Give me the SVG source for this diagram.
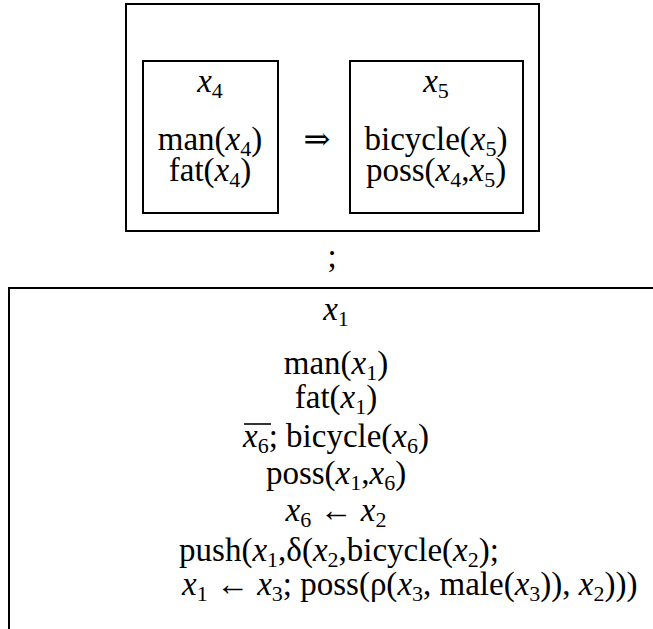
<svg xmlns="http://www.w3.org/2000/svg" width="653" height="629" viewBox="0 0 653 629">
<style>
.box{fill:none;stroke:#000;stroke-width:2}
text{font-family:'Liberation Serif','DejaVu Serif',serif;font-size:33px;fill:#000}
.c{text-anchor:middle}
.i{font-style:italic}
.s{font-size:22px}
.sym{font-family:'DejaVu Serif',serif;font-size:32px}
</style>
<rect width="653" height="629" fill="#fff"/>
<g id="outer">
<rect class="box" x="126" y="4" width="413" height="227"/>
</g>
<g id="box-x4">
<rect class="box" x="143" y="61" width="135" height="152"/>
<text class="c" x="210" y="92"><tspan class="i">x</tspan><tspan class="s" dy="6">4</tspan></text>
<text class="c" x="210" y="150">man(<tspan class="i">x</tspan><tspan class="s" dy="6">4</tspan><tspan dy="-6">)</tspan></text>
<text class="c" x="210" y="181">fat(<tspan class="i">x</tspan><tspan class="s" dy="6">4</tspan><tspan dy="-6">)</tspan></text>
</g>
<g id="implies">
<text class="c sym" x="317" y="150">⇒</text>
</g>
<g id="box-x5">
<rect class="box" x="350" y="61" width="173" height="152"/>
<text class="c" x="436" y="92"><tspan class="i">x</tspan><tspan class="s" dy="6">5</tspan></text>
<text class="c" x="436" y="150">bicycle(<tspan class="i">x</tspan><tspan class="s" dy="6">5</tspan><tspan dy="-6">)</tspan></text>
<text class="c" x="436" y="181">poss(<tspan class="i">x</tspan><tspan class="s" dy="6">4</tspan><tspan dy="-6">,</tspan><tspan class="i">x</tspan><tspan class="s" dy="6">5</tspan><tspan dy="-6">)</tspan></text>
</g>
<g id="seq">
<text class="c" x="332" y="267">;</text>
</g>
<g id="box-x1">
<path class="box" d="M9,629 V288 H653"/>
<text class="c" x="336" y="320"><tspan class="i">x</tspan><tspan class="s" dy="6">1</tspan></text>
<text class="c" x="336" y="374">man(<tspan class="i">x</tspan><tspan class="s" dy="6">1</tspan><tspan dy="-6">)</tspan></text>
<text class="c" x="336" y="408">fat(<tspan class="i">x</tspan><tspan class="s" dy="6">1</tspan><tspan dy="-6">)</tspan></text>
<text class="c" x="336" y="447"><tspan class="i">x</tspan><tspan class="s" dy="6">6</tspan><tspan dy="-6">; bicycle(</tspan><tspan class="i">x</tspan><tspan class="s" dy="6">6</tspan><tspan dy="-6">)</tspan></text>
<line x1="244" y1="424" x2="271" y2="424" stroke="#000" stroke-width="1.6"/>
<text class="c" x="336" y="484">poss(<tspan class="i">x</tspan><tspan class="s" dy="6">1</tspan><tspan dy="-6">,</tspan><tspan class="i">x</tspan><tspan class="s" dy="6">6</tspan><tspan dy="-6">)</tspan></text>
<text class="c" x="336" y="521"><tspan class="i">x</tspan><tspan class="s" dy="6">6</tspan><tspan dy="-6"> ← </tspan><tspan class="i">x</tspan><tspan class="s" dy="6">2</tspan></text>
<text class="c" x="339" y="561">push(<tspan class="i">x</tspan><tspan class="s" dy="6">1</tspan><tspan dy="-6">,δ(</tspan><tspan class="i">x</tspan><tspan class="s" dy="6">2</tspan><tspan dy="-6">,bicycle(</tspan><tspan class="i">x</tspan><tspan class="s" dy="6">2</tspan><tspan dy="-6">);</tspan></text>
<text x="182" y="595"><tspan class="i">x</tspan><tspan class="s" dy="6">1</tspan><tspan dy="-6"> ← </tspan><tspan class="i">x</tspan><tspan class="s" dy="6">3</tspan><tspan dy="-6">; poss(ρ(</tspan><tspan class="i">x</tspan><tspan class="s" dy="6">3</tspan><tspan dy="-6">, male(</tspan><tspan class="i">x</tspan><tspan class="s" dy="6">3</tspan><tspan dy="-6">)), </tspan><tspan class="i">x</tspan><tspan class="s" dy="6">2</tspan><tspan dy="-6">)))</tspan></text>
</g>
</svg>
